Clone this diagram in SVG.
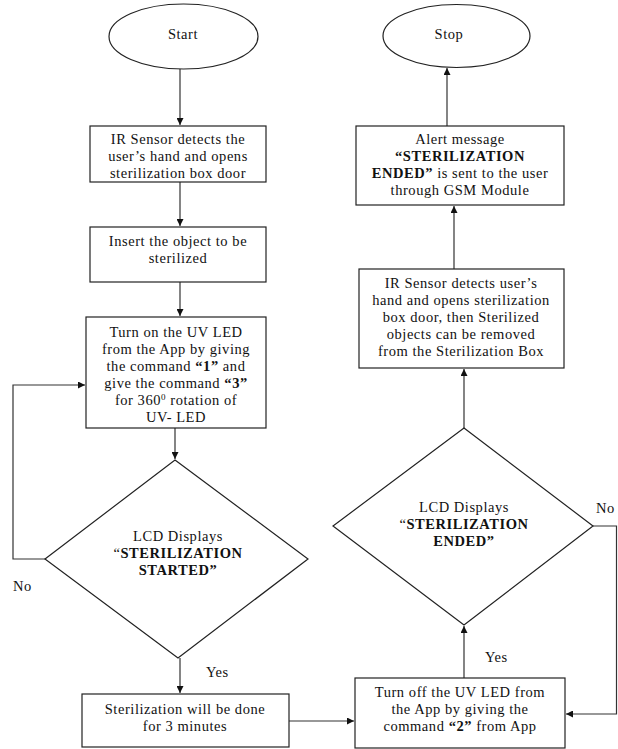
<svg xmlns="http://www.w3.org/2000/svg" width="618" height="749" viewBox="0 0 618 749">
<style>
.s{fill:#fff;stroke:#222;stroke-width:1.2}
.c{fill:none;stroke:#333;stroke-width:1.2}
text{font-family:"Liberation Serif","Times New Roman",serif;font-size:14.5px;letter-spacing:0.55px;fill:#111;text-anchor:middle}
.b{font-weight:bold}
.l{text-anchor:start}
</style>
<defs>
<marker id="a" viewBox="0 0 10 10" refX="10" refY="5" markerWidth="7" markerHeight="7" markerUnits="userSpaceOnUse" orient="auto"><path d="M0,0L10,5L0,10z" fill="#111"/></marker>
</defs>
<rect width="618" height="749" fill="#fff"/>
<g id="connectors">
<path class="c" d="M180,69V125" marker-end="url(#a)"/>
<path class="c" d="M180,182V226" marker-end="url(#a)"/>
<path class="c" d="M180,282V316" marker-end="url(#a)"/>
<path class="c" d="M175,428V459" marker-end="url(#a)"/>
<path class="c" d="M45,559H13V385H85" marker-end="url(#a)"/>
<path class="c" d="M180,658V693" marker-end="url(#a)"/>
<path class="c" d="M289,721H354" marker-end="url(#a)"/>
<path class="c" d="M464,678V626" marker-end="url(#a)"/>
<path class="c" d="M593,526H616.5V714H566" marker-end="url(#a)"/>
<path class="c" d="M464,428V369" marker-end="url(#a)"/>
<path class="c" d="M454,269V206" marker-end="url(#a)"/>
<path class="c" d="M447,126V68" marker-end="url(#a)"/>
<text class="l" x="13" y="591">No</text>
<text class="l" x="206" y="677">Yes</text>
<text class="l" x="485" y="662">Yes</text>
<text class="l" x="596" y="513">No</text>
</g>
<g id="start">
<ellipse class="s" cx="183.5" cy="36.5" rx="74.5" ry="32.5"/>
<text x="183" y="39">Start</text>
</g>
<g id="box1">
<rect class="s" x="90" y="126" width="176" height="56"/>
<text x="178" y="144">IR Sensor detects the</text>
<text x="178" y="161">user’s hand and opens</text>
<text x="178" y="178">sterilization box door</text>
</g>
<g id="box2">
<rect class="s" x="90" y="227" width="176" height="55"/>
<text x="178" y="246">Insert the object to be</text>
<text x="178" y="263">sterilized</text>
</g>
<g id="box3">
<rect class="s" x="86" y="317" width="180" height="111"/>
<text x="176" y="337">Turn on the UV LED</text>
<text x="176" y="354">from the App by giving</text>
<text x="176" y="371">the command <tspan class="b">“1”</tspan> and</text>
<text x="176" y="388">give the command <tspan class="b">“3”</tspan></text>
<text x="176" y="405">for 360<tspan font-size="9" dy="-5">0</tspan><tspan dy="5"> rotation of</tspan></text>
<text x="176" y="422">UV- LED</text>
</g>
<g id="decision1">
<path class="s" d="M175,460L308,559L178,658L45,559Z"/>
<text x="178" y="541">LCD Displays</text>
<text x="178" y="558">“<tspan class="b">STERILIZATION</tspan></text>
<text x="178" y="575" class="b">STARTED”</text>
</g>
<g id="box4">
<rect class="s" x="82" y="694" width="207" height="53"/>
<text x="185" y="714">Sterilization will be done</text>
<text x="185" y="731">for 3 minutes</text>
</g>
<g id="box5">
<rect class="s" x="355" y="678" width="210" height="70"/>
<text x="460" y="697">Turn off the UV LED from</text>
<text x="460" y="714">the App by giving the</text>
<text x="460" y="731">command <tspan class="b">“2”</tspan> from App</text>
</g>
<g id="decision2">
<path class="s" d="M464,428L593,526L464,625L333,526Z"/>
<text x="464" y="512">LCD Displays</text>
<text x="464" y="529">“<tspan class="b">STERILIZATION</tspan></text>
<text x="464" y="546" class="b">ENDED”</text>
</g>
<g id="box6">
<rect class="s" x="359" y="269" width="205" height="99"/>
<text x="461" y="288">IR Sensor detects user’s</text>
<text x="461" y="305">hand and opens sterilization</text>
<text x="461" y="322">box door, then Sterilized</text>
<text x="461" y="339">objects can be removed</text>
<text x="461" y="356">from the Sterilization Box</text>
</g>
<g id="box7">
<rect class="s" x="356" y="126" width="208" height="79"/>
<text x="460" y="144">Alert message</text>
<text x="460" y="161" class="b">“STERILIZATION</text>
<text x="460" y="178"><tspan class="b">ENDED”</tspan> is sent to the user</text>
<text x="460" y="195">through GSM Module</text>
</g>
<g id="stop">
<ellipse class="s" cx="456.5" cy="36" rx="73.5" ry="31.5"/>
<text x="449" y="39">Stop</text>
</g>
</svg>
